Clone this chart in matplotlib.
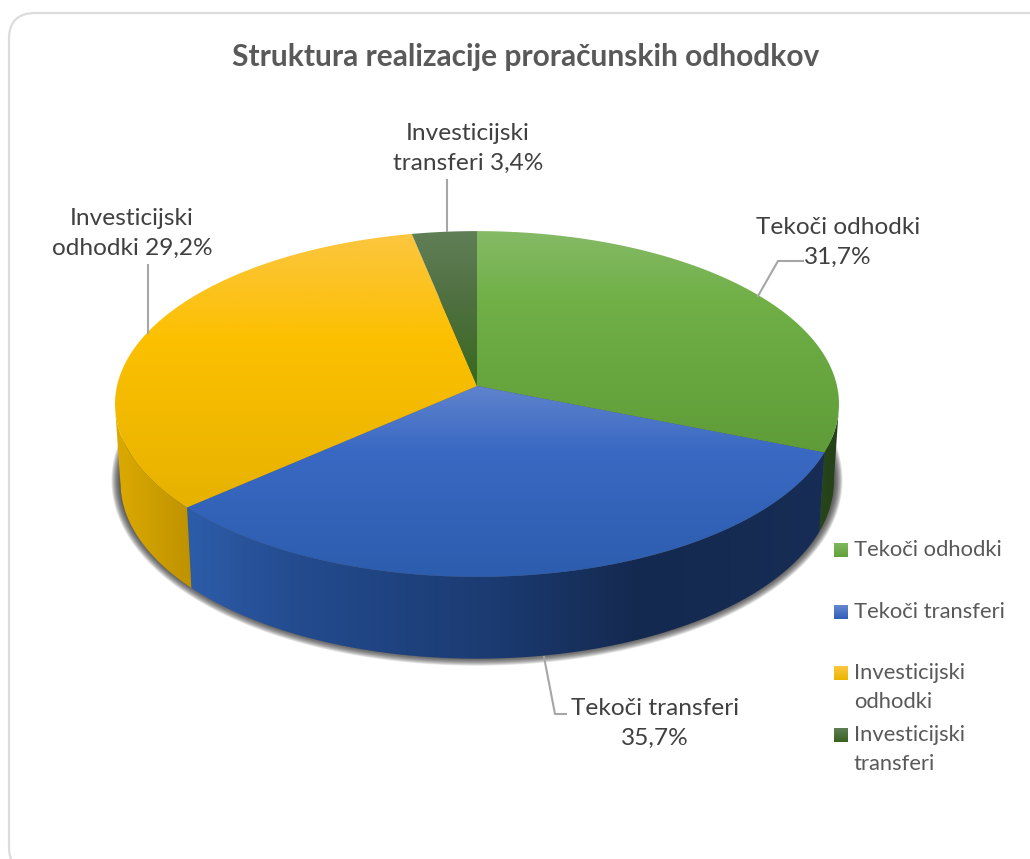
# plot.py - Struktura realizacije proracunskih odhodkov (3D look pie, drawn by hand)
import numpy as np
import matplotlib
matplotlib.use('Agg')
import matplotlib.pyplot as plt
from matplotlib.colors import to_rgb
from matplotlib.patches import Polygon, FancyBboxPatch

plt.rcParams['font.family'] = ['Lato', 'DejaVu Sans']

# Data
title = 'Struktura realizacije proračunskih odhodkov'
categories = ['Tekoči odhodki', 'Tekoči transferi', 'Investicijski\nodhodki', 'Investicijski\ntransferi']
# printed labels
label_texts = ['Tekoči odhodki\n31,7%', 'Tekoči transferi\n35,7%', 'Investicijski\nodhodki 29,2%', 'Investicijski\ntransferi 3,4%']
# slice sizes as they are drawn in the picture (they do not follow the printed labels)
drawn_shares = [31.1, 32.4, 33.3, 3.2]

# Pie geometry in pixels
CX, CY = 477, 386
RX, RY = 360, 171
K = 0.104  # perspective of the top face
TEXT_DARK = '#404040'
TEXT_GREY = '#595959'
LINE_GREY = '#a6a6a6'

# Gradient stops: (pixel position, colour)
top_stops = [
    [(231, '#85ba66'), (300, '#70b047'), (455, '#5f9c38')],
    [(386, '#5f83cd'), (450, '#3a69c3'), (577, '#2c5dae')],
    [(236, '#fcc63f'), (340, '#fcc000'), (510, '#e6b200')],
    [(231, '#617f57'), (300, '#4f7040'), (385, '#39691f')],
]
side_stops = [
    [(800, '#2a4a18'), (840, '#24401a')],
    [(190, '#2d5ca8'), (300, '#234b8e'), (500, '#1b3a70'), (640, '#14294f'), (820, '#182d55')],
    [(115, '#dcaa00'), (190, '#bf9300')],
]
legend_stops = [
    [(0, '#7fb75e'), (1, '#62a23a')],
    [(0, '#6688d0'), (1, '#2f60b8')],
    [(0, '#fcc63f'), (1, '#eab500')],
    [(0, '#5f7f55'), (1, '#38611f')],
]


def rim(theta_deg):
    """Top rim point, angle clockwise from 12 o'clock"""
    t = np.radians(theta_deg)
    d = 1 + K * np.cos(t)
    return CX + RX * np.sin(t) / d, CY - RY * np.cos(t) / d


def lower(x, y):
    """Same point on the bottom rim of the pie"""
    return CX + (x - CX) * 0.985, CY + 78 + (y - CY) * 1.02


def gradient_image(ax, stops, extent, vertical, clip):
    pos = [s[0] for s in stops]
    cols = np.array([to_rgb(s[1]) for s in stops])
    lo, hi = (extent[2], extent[3]) if vertical else (extent[0], extent[1])
    grid = np.linspace(lo, hi, 400)
    rgb = np.stack([np.interp(grid, pos, cols[:, c]) for c in range(3)], axis=-1)
    img = rgb[:, None, :] if vertical else rgb[None, :, :]
    im = ax.imshow(img, extent=(extent[0], extent[1], extent[3], extent[2]),
                   origin='upper', aspect='auto', interpolation='bilinear', zorder=clip.get_zorder())
    im.set_clip_path(clip)
    return im


fig = plt.figure(figsize=(10.3, 8.59), dpi=100)
ax = fig.add_axes([0, 0, 1, 1])
ax.axis('off')

# Card outline, runs off the right and bottom side
ax.add_patch(FancyBboxPatch((9, 13), 1100, 860, boxstyle='round,pad=0,rounding_size=26',
                            facecolor='white', edgecolor='#dcdcdc', linewidth=1.6, zorder=0))

# Shadow of the pie body, stacked strokes fake the blur
angles = np.cumsum([0] + drawn_shares) * 3.6
all_t = np.linspace(0, 360, 361)
bx, by = lower(*rim(all_t))
shadow_xy = np.column_stack([bx, by - 2])
for w in range(13, 0, -1):
    ax.add_patch(Polygon(shadow_xy, closed=True, facecolor='#303030', edgecolor='#303030',
                         linewidth=w, alpha=0.11, joinstyle='round', zorder=1))

# Side walls, back to front. Outer ends stop where the rim turns back (silhouette)
side_ranges = [(97, angles[1]), (angles[1], angles[2]), (angles[2], 263)]
for i, (a, b) in zip([0, 1, 2], side_ranges):
    t = np.linspace(a, b, 120)
    x, y = rim(t)
    xb, yb = lower(x, y)
    wall = Polygon(np.column_stack([np.r_[x, xb[::-1]], np.r_[y, yb[::-1]]]), closed=True,
                   facecolor='none', edgecolor='none', zorder=2)
    ax.add_patch(wall)
    gradient_image(ax, side_stops[i], (x.min() - 5, x.max() + 5, 220, 680), False, wall)

# Top face slices
for i in range(len(drawn_shares)):
    t = np.linspace(angles[i], angles[i + 1], 200)
    x, y = rim(t)
    x = np.r_[CX, x]
    y = np.r_[CY, y]
    face = Polygon(np.column_stack([x, y]), closed=True, facecolor='none', edgecolor='none', zorder=3)
    ax.add_patch(face)
    gradient_image(ax, top_stops[i], (x.min() - 5, x.max() + 5, y.min() - 2, y.max() + 2), True, face)

# Leader lines
ax.plot([447, 447], [180, 231], color=LINE_GREY, lw=1.5, zorder=4)
ax.plot([148, 148], [265, 333], color=LINE_GREY, lw=1.5, zorder=4)
ax.plot([803, 778, 758], [261, 261, 296], color=LINE_GREY, lw=1.5, zorder=4)
ax.plot([544, 555, 566], [657, 714, 714], color=LINE_GREY, lw=1.5, zorder=4)

# Title and data labels
ax.text(526, 57, title, ha='center', va='center', fontsize=21.5, fontweight='bold', color=TEXT_GREY)
label_pos = [(838, 242), (655, 723), (132, 233), (468, 148)]
for txt, (lx, ly) in zip(label_texts, label_pos):
    ax.text(lx, ly, txt, ha='center', va='center', fontsize=17.6, color=TEXT_DARK, linespacing=1.52)

# Legend
legend_y = [550, 612, 673, 735]
for name, ly, stops in zip(categories, legend_y, legend_stops):
    square = Polygon([(834, ly - 7), (848, ly - 7), (848, ly + 7), (834, ly + 7)], closed=True,
                     facecolor='none', edgecolor='none', zorder=3)
    ax.add_patch(square)
    gradient_image(ax, [(ly - 7, stops[0][1]), (ly + 7, stops[1][1])], (834, 848, ly - 7, ly + 7), True, square)
    ax.text(854, ly, name.split('\n')[0], ha='left', va='center', fontsize=15.8, color=TEXT_GREY)
    if '\n' in name:
        ax.text(854, ly + 29, name.split('\n')[1], ha='left', va='center', fontsize=15.8, color=TEXT_GREY)

ax.set_xlim(0, 1030)
ax.set_ylim(859, 0)
fig.savefig('out.png', dpi=100)
